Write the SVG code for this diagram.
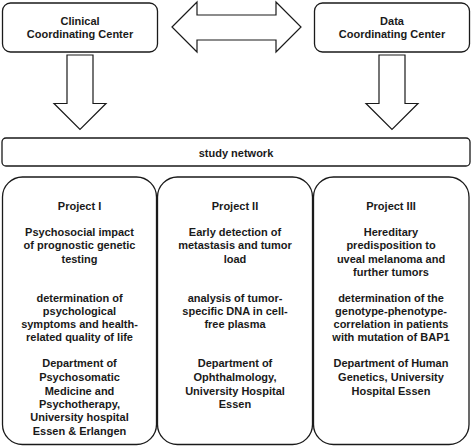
<svg xmlns="http://www.w3.org/2000/svg" width="472" height="446" viewBox="0 0 472 446">
<style>
.box{fill:#fff;stroke:#1a1a1a;stroke-width:1.3}
.arr{fill:#fff;stroke:#1a1a1a;stroke-width:1.2;stroke-linejoin:miter}
text{font-family:"Liberation Sans",Arial,sans-serif;font-size:11px;font-weight:bold;fill:#1a1a1a;text-anchor:middle}
</style>
<rect width="472" height="446" fill="#fff"/>
<g id="connectors">
<path class="arr" d="M172,27 L197,2 L197,15 L276,15 L276,2 L301,27 L276,52 L276,40 L197,40 L197,52 Z"/>
<path class="arr" d="M67,55 L93,55 L93,103.5 L106,103.5 L80,129.5 L54,103.5 L67,103.5 Z"/>
<path class="arr" d="M379,55 L405,55 L405,103.5 L418,103.5 L392,129.5 L366,103.5 L379,103.5 Z"/>
</g>
<g id="clinical">
<rect class="box" x="2.5" y="3" width="155" height="49" rx="8"/>
<text x="80" y="25">Clinical</text>
<text x="80" y="38">Coordinating Center</text>
</g>
<g id="data">
<rect class="box" x="314.5" y="3" width="155" height="49" rx="8"/>
<text x="392" y="25">Data</text>
<text x="392" y="38">Coordinating Center</text>
</g>
<g id="network">
<rect class="box" x="2" y="138" width="468" height="28" rx="4"/>
<text x="236" y="157">study network</text>
</g>
<g id="project1">
<rect class="box" x="2.5" y="177" width="154" height="267.5" rx="20"/>
<text x="79.5" y="210">Project I</text>
<text x="79.5" y="236">Psychosocial  impact</text>
<text x="79.5" y="249">of prognostic genetic</text>
<text x="79.5" y="263">testing</text>
<text x="79.5" y="302">determination  of</text>
<text x="79.5" y="315">psychological</text>
<text x="79.5" y="328">symptoms  and health-</text>
<text x="79.5" y="341">related quality of life</text>
<text x="79.5" y="367">Department of</text>
<text x="79.5" y="381">Psychosomatic</text>
<text x="79.5" y="395">Medicine  and</text>
<text x="79.5" y="408">Psychotherapy,</text>
<text x="79.5" y="421">University hospital</text>
<text x="79.5" y="435">Essen &amp; Erlangen</text>
</g>
<g id="project2">
<rect class="box" x="157.5" y="177" width="155" height="267.5" rx="20"/>
<text x="235" y="210">Project II</text>
<text x="235" y="236">Early detection of</text>
<text x="235" y="249">metastasis  and tumor</text>
<text x="235" y="263">load</text>
<text x="235" y="302">analysis  of tumor-</text>
<text x="235" y="315">specific  DNA in cell-</text>
<text x="235" y="328">free plasma</text>
<text x="235" y="367">Department of</text>
<text x="235" y="381">Ophthalmology,</text>
<text x="235" y="395">University  Hospital</text>
<text x="235" y="408">Essen</text>
</g>
<g id="project3">
<rect class="box" x="313.5" y="177" width="155.5" height="267.5" rx="20"/>
<text x="391" y="210">Project III</text>
<text x="391" y="236">Hereditary</text>
<text x="391" y="249">predisposition  to</text>
<text x="391" y="263">uveal melanoma  and</text>
<text x="391" y="276">further tumors</text>
<text x="391" y="302">determination  of the</text>
<text x="391" y="315">genotype-phenotype-</text>
<text x="391" y="328">correlation in patients</text>
<text x="391" y="341">with mutation of BAP1</text>
<text x="391" y="367">Department of Human</text>
<text x="391" y="381">Genetics, University</text>
<text x="391" y="395">Hospital Essen</text>
</g>
</svg>
